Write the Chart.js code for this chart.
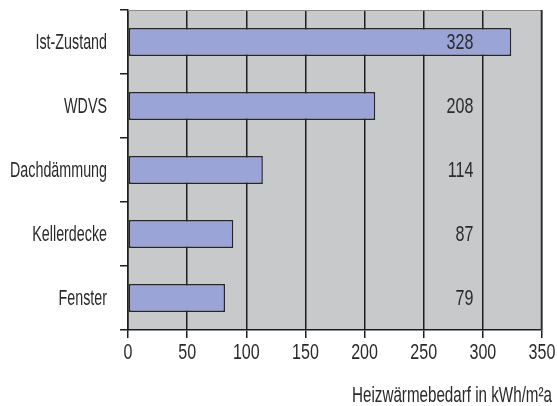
<!DOCTYPE html>
<html>
<head>
<meta charset="utf-8">
<script src="https://cdn.jsdelivr.net/npm/chart.js@4"></script>
<style>
  html, body { margin: 0; padding: 0; background: #ffffff; }
  #wrap { width: 557px; height: 406px; position: relative; }
</style>
</head>
<body>
<div id="wrap"><canvas id="c"></canvas></div>
<script>
const categories = ['Ist-Zustand', 'WDVS', 'Dachdämmung', 'Kellerdecke', 'Fenster'];
const barValues = [324, 209, 114, 89, 82];
const valueLabels = ['328', '208', '114', '87', '79'];
const xTicks = [0, 50, 100, 150, 200, 250, 300, 350];
const axisTitle = 'Heizwärmebedarf in kWh/m²a';
const labelAnchor = 292;

const FONT = '"Liberation Sans", Arial, sans-serif';
const TEXT = '#2a2a2a';

// draw horizontally condensed text (mimics a condensed typeface)
function narrowText(ctx, text, x, y, align, size, sx) {
  ctx.save();
  ctx.font = size + 'px ' + FONT;
  ctx.fillStyle = TEXT;
  ctx.textAlign = align;
  ctx.textBaseline = 'middle';
  ctx.translate(x, y);
  ctx.scale(sx, 1);
  ctx.fillText(text, 0, 0);
  ctx.restore();
}

const bgPlugin = {
  id: 'plotBg',
  beforeDraw(chart) {
    const { ctx, chartArea: a } = chart;
    ctx.save();
    ctx.fillStyle = '#c8c9cb';
    ctx.fillRect(a.left, a.top, a.right - a.left, a.bottom - a.top);
    ctx.restore();
  },
  afterDraw(chart) {
    const { ctx, chartArea: a } = chart;
    ctx.save();
    ctx.lineWidth = 1.2;
    ctx.strokeStyle = '#8a8a8a';
    ctx.beginPath();
    ctx.moveTo(a.left, a.top + 0.5);
    ctx.lineTo(a.right, a.top + 0.5);
    ctx.stroke();
    ctx.lineWidth = 1.5;
    ctx.strokeStyle = '#2a2a2a';
    ctx.beginPath();
    ctx.moveTo(a.right - 0.5, a.top);
    ctx.lineTo(a.right - 0.5, a.bottom);
    ctx.stroke();
    ctx.restore();
    const xs = chart.scales.x, ys = chart.scales.y;
    // category labels
    categories.forEach((t, i) => {
      narrowText(ctx, t, a.left - 21, ys.getPixelForValue(i) + 1, 'right', 22, 0.65);
    });
    // x tick labels
    xTicks.forEach(v => {
      narrowText(ctx, String(v), xs.getPixelForValue(v), a.bottom + 23, 'center', 22, 0.73);
    });
    // value labels
    valueLabels.forEach((t, i) => {
      narrowText(ctx, t, xs.getPixelForValue(labelAnchor), ys.getPixelForValue(i) + 1, 'right', 22, 0.73);
    });
    // axis title
    narrowText(ctx, axisTitle, chart.width - 5, a.bottom + 66, 'right', 22, 0.69);
  }
};

new Chart(document.getElementById('c'), {
  type: 'bar',
  data: {
    labels: categories,
    datasets: [{
      data: barValues,
      backgroundColor: '#9aa4d6',
      borderColor: '#262626',
      borderWidth: 1.5,
      borderSkipped: false,
      barPercentage: 0.875,
      categoryPercentage: 0.5
    }]
  },
  options: {
    indexAxis: 'y',
    responsive: true,
    maintainAspectRatio: false,
    animation: false,
    layout: { padding: { left: 0, right: 15, top: 10, bottom: 0 } },
    plugins: { legend: { display: false }, tooltip: { enabled: false } },
    scales: {
      x: {
        type: 'linear',
        min: 0,
        max: 350,
        afterBuildTicks(scale) { scale.ticks = xTicks.map(v => ({ value: v })); },
        afterFit(scale) { scale.height = 76; scale.paddingLeft = 0; scale.paddingRight = 0; },
        grid: { color: '#1e1e1e', lineWidth: 1.5, tickLength: 8, drawTicks: true },
        border: { display: true, color: '#1e1e1e', width: 1.5 },
        ticks: { display: false }
      },
      y: {
        afterFit(scale) { scale.width = 128; scale.paddingTop = 0; scale.paddingBottom = 0; },
        grid: { drawOnChartArea: false, color: '#1e1e1e', lineWidth: 1.5, tickLength: 8, offset: true },
        border: { display: true, color: '#1e1e1e', width: 1.5 },
        ticks: { display: false }
      }
    }
  },
  plugins: [bgPlugin]
});
</script>
</body>
</html>
